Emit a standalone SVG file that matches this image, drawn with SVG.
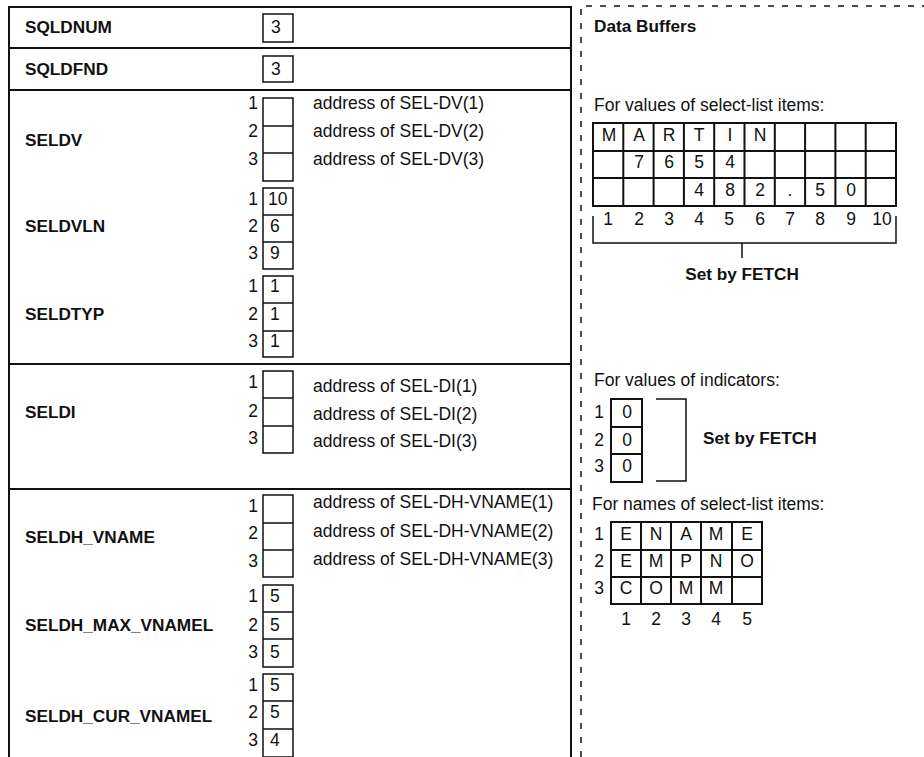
<svg xmlns="http://www.w3.org/2000/svg" width="924" height="757" viewBox="0 0 924 757">
<style>
text{font-family:"Liberation Sans",Arial,Helvetica,sans-serif;font-size:17.5px;fill:#111}
.b{font-weight:bold;font-size:17.2px}
.m{text-anchor:middle}
.e{text-anchor:end}
.bx{fill:none;stroke:#111;stroke-width:1.5}
.gr{fill:none;stroke:#111;stroke-width:2}
.fr{fill:none;stroke:#111;stroke-width:2}
.ds{fill:none;stroke:#111;stroke-width:1.5;stroke-dasharray:6 8}
</style>
<rect width="924" height="757" fill="#fff"/>
<g id="frame">
<path class="fr" d="M9,757 V7 H571 V757 M9,48 H571 M9,90 H571 M9,364 H571 M9,489 H571"/>
</g>
<g id="connectors">
<path class="ds" d="M581,757 V6 H924"/>
<path class="bx" d="M593,216 V243 H896 V216 M742,243 V258"/>
<path class="bx" d="M656,399 H686 V481 H656"/>
</g>
<g id="sqldnum">
<text class="b" x="25" y="33">SQLDNUM</text>
<rect class="bx" x="263" y="14" width="30" height="28"/>
<text x="271" y="33">3</text>
</g>
<g id="sqldfnd">
<text class="b" x="25" y="75">SQLDFND</text>
<rect class="bx" x="263" y="56" width="30" height="26"/>
<text x="271" y="75">3</text>
</g>
<g id="seldv">
<text class="b" x="25" y="146">SELDV</text>
<path class="bx" d="M263,98 H293 V181 H263 Z M263,126 H293 M263,153 H293"/>
<text class="e" x="258" y="109">1</text>
<text class="e" x="258" y="137">2</text>
<text class="e" x="258" y="165">3</text>
<text x="313" y="109">address of SEL-DV(1)</text>
<text x="313" y="137">address of SEL-DV(2)</text>
<text x="313" y="165">address of SEL-DV(3)</text>
</g>
<g id="seldvln">
<text class="b" x="25" y="232">SELDVLN</text>
<path class="bx" d="M263,188 H293 V269 H263 Z M263,215 H293 M263,242 H293"/>
<text class="e" x="258" y="205">1</text>
<text class="e" x="258" y="232">2</text>
<text class="e" x="258" y="259">3</text>
<text x="268" y="205">10</text>
<text x="270" y="232">6</text>
<text x="270" y="259">9</text>
</g>
<g id="seldtyp">
<text class="b" x="25" y="320">SELDTYP</text>
<path class="bx" d="M263,276 H293 V357 H263 Z M263,303 H293 M263,331 H293"/>
<text class="e" x="258" y="292">1</text>
<text class="e" x="258" y="320">2</text>
<text class="e" x="258" y="347">3</text>
<text x="270" y="292">1</text>
<text x="270" y="320">1</text>
<text x="270" y="347">1</text>
</g>
<g id="seldi">
<text class="b" x="25" y="418">SELDI</text>
<path class="bx" d="M263,371 H293 V453 H263 Z M263,398 H293 M263,426 H293"/>
<text class="e" x="258" y="388">1</text>
<text class="e" x="258" y="417">2</text>
<text class="e" x="258" y="444">3</text>
<text x="313" y="392">address of SEL-DI(1)</text>
<text x="313" y="420">address of SEL-DI(2)</text>
<text x="313" y="447">address of SEL-DI(3)</text>
</g>
<g id="seldh_vname">
<text class="b" x="25" y="543">SELDH_VNAME</text>
<path class="bx" d="M263,495 H293 V577 H263 Z M263,523 H293 M263,550 H293"/>
<text class="e" x="258" y="512">1</text>
<text class="e" x="258" y="539">2</text>
<text class="e" x="258" y="567">3</text>
<text x="313" y="508">address of SEL-DH-VNAME(1)</text>
<text x="313" y="537">address of SEL-DH-VNAME(2)</text>
<text x="313" y="565">address of SEL-DH-VNAME(3)</text>
</g>
<g id="seldh_max_vnamel">
<text class="b" x="25" y="631">SELDH_MAX_VNAMEL</text>
<path class="bx" d="M263,585 H293 V667 H263 Z M263,612 H293 M263,639 H293"/>
<text class="e" x="258" y="602">1</text>
<text class="e" x="258" y="631">2</text>
<text class="e" x="258" y="658">3</text>
<text x="270" y="602">5</text>
<text x="270" y="631">5</text>
<text x="270" y="658">5</text>
</g>
<g id="seldh_cur_vnamel">
<text class="b" x="25" y="722">SELDH_CUR_VNAMEL</text>
<path class="bx" d="M263,674 H293 V757 H263 Z M263,701 H293 M263,729 H293"/>
<text class="e" x="258" y="691">1</text>
<text class="e" x="258" y="718">2</text>
<text class="e" x="258" y="746">3</text>
<text x="270" y="691">5</text>
<text x="270" y="718">5</text>
<text x="270" y="746">4</text>
</g>
<g id="data_buffers">
<text class="b" x="594" y="32">Data Buffers</text>
</g>
<g id="values_buffer">
<text x="594" y="111">For values of select-list items:</text>
<path class="gr" d="M593,123 H896 V206 H593 Z M593,151 H896 M593,178 H896 M623.3,123 V206 M653.6,123 V206 M683.9,123 V206 M714.2,123 V206 M744.5,123 V206 M774.8,123 V206 M805.1,123 V206 M835.4,123 V206 M865.7,123 V206"/>
<text class="m" x="609" y="141">M</text>
<text class="m" x="639" y="141">A</text>
<text class="m" x="669" y="141">R</text>
<text class="m" x="699" y="141">T</text>
<text class="m" x="730" y="141">I</text>
<text class="m" x="760" y="141">N</text>
<text class="m" x="639" y="168">7</text>
<text class="m" x="669" y="168">6</text>
<text class="m" x="699" y="168">5</text>
<text class="m" x="730" y="168">4</text>
<text class="m" x="699" y="196">4</text>
<text class="m" x="730" y="196">8</text>
<text class="m" x="760" y="196">2</text>
<text class="m" x="790" y="196">.</text>
<text class="m" x="820" y="196">5</text>
<text class="m" x="851" y="196">0</text>
<text class="m" x="608" y="225">1</text>
<text class="m" x="639" y="225">2</text>
<text class="m" x="669" y="225">3</text>
<text class="m" x="699" y="225">4</text>
<text class="m" x="729" y="225">5</text>
<text class="m" x="760" y="225">6</text>
<text class="m" x="790" y="225">7</text>
<text class="m" x="820" y="225">8</text>
<text class="m" x="851" y="225">9</text>
<text class="m" x="882" y="225">10</text>
<text class="b m" x="742" y="280">Set by FETCH</text>
</g>
<g id="indicator_buffer">
<text x="594" y="386">For values of indicators:</text>
<path class="gr" d="M611,399 H642 V482 H611 Z M611,427 H642 M611,454 H642"/>
<text class="e" x="604" y="418">1</text>
<text class="e" x="604" y="446">2</text>
<text class="e" x="604" y="472">3</text>
<text class="m" x="627" y="418">0</text>
<text class="m" x="627" y="446">0</text>
<text class="m" x="627" y="472">0</text>
<text class="b" x="703" y="444">Set by FETCH</text>
</g>
<g id="names_buffer">
<text x="592" y="510">For names of select-list items:</text>
<path class="gr" d="M611,522 H762 V604 H611 Z M611,550 H762 M611,577 H762 M641,522 V604 M671,522 V604 M701,522 V604 M732,522 V604"/>
<text class="e" x="604" y="540">1</text>
<text class="e" x="604" y="567">2</text>
<text class="e" x="604" y="594">3</text>
<text class="m" x="626" y="540">E</text>
<text class="m" x="656" y="540">N</text>
<text class="m" x="686" y="540">A</text>
<text class="m" x="716" y="540">M</text>
<text class="m" x="747" y="540">E</text>
<text class="m" x="626" y="567">E</text>
<text class="m" x="656" y="567">M</text>
<text class="m" x="686" y="567">P</text>
<text class="m" x="716" y="567">N</text>
<text class="m" x="747" y="567">O</text>
<text class="m" x="626" y="594">C</text>
<text class="m" x="656" y="594">O</text>
<text class="m" x="686" y="594">M</text>
<text class="m" x="716" y="594">M</text>
<text class="m" x="626" y="625">1</text>
<text class="m" x="656" y="625">2</text>
<text class="m" x="686" y="625">3</text>
<text class="m" x="716" y="625">4</text>
<text class="m" x="747" y="625">5</text>
</g>
</svg>
